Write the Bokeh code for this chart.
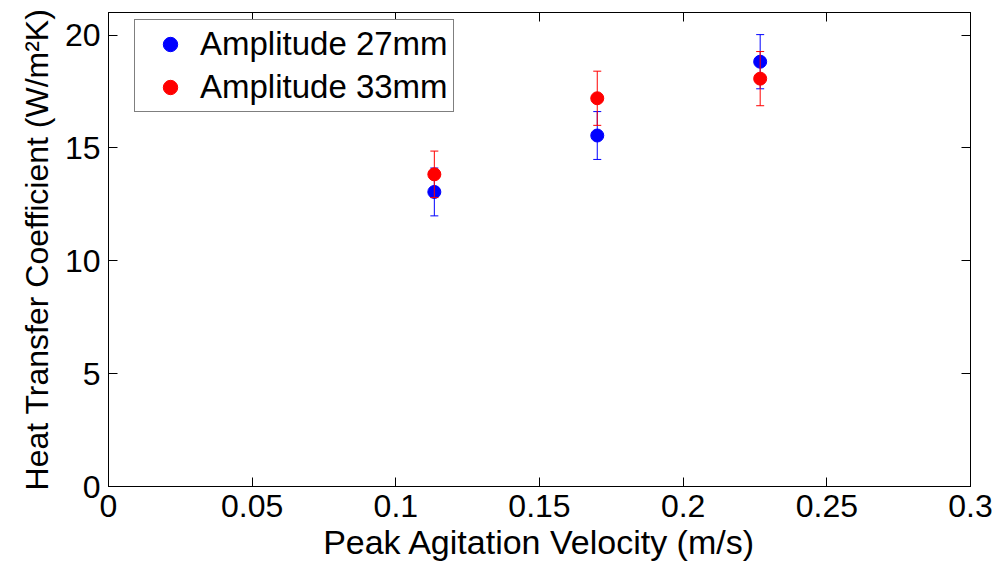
from bokeh.plotting import figure
from bokeh.models import Range1d, FixedTicker, LinearAxis, Legend, LegendItem, ColumnDataSource
from bokeh.embed import file_html
from bokeh.resources import INLINE

# ---- data ----
velocity = [0.1134, 0.1701, 0.2268]
htc_27mm = [13.05, 15.55, 18.82]
err_27mm = [1.06, 1.06, 1.20]
htc_33mm = [13.83, 17.20, 18.07]
err_33mm = [1.03, 1.20, 1.20]

x_ticks = [0, 0.05, 0.1, 0.15, 0.2, 0.25, 0.3]
x_tick_labels = ["0", "0.05", "0.1", "0.15", "0.2", "0.25", "0.3"]
y_ticks = [0, 5, 10, 15, 20]
y_tick_labels = ["0", "5", "10", "15", "20"]

series_names = ["Amplitude 27mm", "Amplitude 33mm"]

FONT = "Liberation Sans"

p = figure(width=999, height=571, x_range=Range1d(0, 0.3), y_range=Range1d(0, 21),
           output_backend="svg", toolbar_location=None,
           min_border_left=108, min_border_right=29, min_border_top=12, min_border_bottom=85)
p.grid.visible = False
p.background_fill_color = "white"
p.border_fill_color = "white"
p.outline_line_color = "black"
p.outline_line_width = 1


def style_axis(ax, ticks, labels, show_labels=True):
    ax.ticker = FixedTicker(ticks=ticks)
    ax.major_tick_in = 9
    ax.major_tick_out = 0
    ax.minor_tick_line_color = None
    ax.axis_line_color = "black"
    ax.major_tick_line_color = "black"
    ax.major_label_text_font = FONT
    ax.axis_label_text_font = FONT
    ax.axis_label_text_font_style = "normal"
    ax.axis_label_text_color = "black"
    if show_labels:
        ax.major_label_overrides = {t: l for t, l in zip(ticks, labels)}
        ax.major_label_text_color = "black"
        ax.major_label_text_font_size = "32px"
        ax.axis_label_text_font_size = "34px"
    else:
        ax.major_label_overrides = {t: "" for t in ticks}
        ax.major_label_text_color = None
        ax.major_label_standoff = 0


xa = p.xaxis[0]
style_axis(xa, x_ticks, x_tick_labels)
xa.axis_label = "Peak Agitation Velocity (m/s)"
xa.major_label_standoff = 8
xa.axis_label_standoff = 3

ya = p.yaxis[0]
style_axis(ya, y_ticks, y_tick_labels)
ya.axis_label = "Heat Transfer Coefficient (W/m\u00b2K)"
ya.axis_label_text_font_size = "32px"
ya.major_label_standoff = 8
ya.axis_label_standoff = 7

top_ax = LinearAxis()
style_axis(top_ax, x_ticks, x_tick_labels, show_labels=False)
p.add_layout(top_ax, "above")
right_ax = LinearAxis()
style_axis(right_ax, y_ticks, y_tick_labels, show_labels=False)
p.add_layout(right_ax, "right")

colors = ["blue", "red"]
items = []
for name, vals, errs, col in [(series_names[0], htc_27mm, err_27mm, colors[0]),
                              (series_names[1], htc_33mm, err_33mm, colors[1])]:
    src = ColumnDataSource(dict(
        x=velocity, y=vals,
        lo=[v - e for v, e in zip(vals, errs)],
        hi=[v + e for v, e in zip(vals, errs)],
    ))
    p.segment(x0="x", y0="lo", x1="x", y1="hi", source=src, line_color=col, line_width=1)
    p.scatter(x="x", y="lo", source=src, marker="dash", size=8, line_color=col, line_width=1)
    p.scatter(x="x", y="hi", source=src, marker="dash", size=8, line_color=col, line_width=1)
    r = p.scatter(x="x", y="y", source=src, marker="circle", size=13,
                  fill_color=col, line_color=col)
    items.append(LegendItem(label=name, renderers=[r]))

legend = Legend(items=items, location=(26, 374))
legend.label_text_font = FONT
legend.label_text_font_size = "33px"
legend.label_text_color = "black"
legend.border_line_color = "black"
legend.border_line_width = 1
legend.background_fill_alpha = 1
legend.padding = 5
legend.spacing = 5
legend.glyph_width = 60
legend.glyph_height = 36
legend.label_height = 36
legend.label_standoff = 0
legend.margin = 0
p.add_layout(legend)

open("out.html", "w").write(file_html(p, INLINE))
